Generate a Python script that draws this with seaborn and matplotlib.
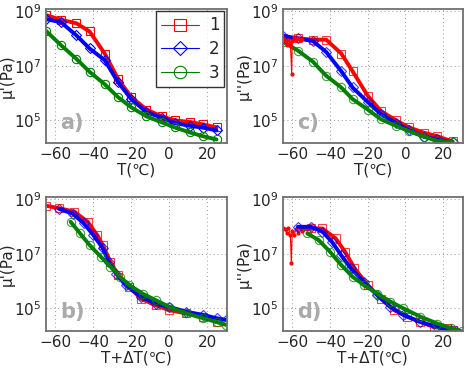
import matplotlib
matplotlib.use("Agg")
import matplotlib.pyplot as plt
import seaborn as sns

# ---- data (T in degC, moduli in Pa) ----
# panel a: mu' vs T
a_T = [-65, -57, -49, -42, -34, -27, -20, -12, -4, 3, 11, 18, 25]
a_mu1 = [7.2e8, 4.8e8, 3.6e8, 1.8e8, 2.8e7, 3.3e6, 7.1e5, 2.5e5, 1.4e5, 1.0e5, 8.7e4, 7.1e4, 5.5e4]
a_mu2 = [5.1e8, 3.9e8, 1.3e8, 4.3e7, 1.6e7, 2.5e6, 6.0e5, 2.0e5, 1.26e5, 7.9e4, 6.3e4, 5.4e4, 4.3e4]
a_mu3 = [1.9e8, 5.6e7, 1.8e7, 6.0e6, 2.1e6, 7.1e5, 3.0e5, 1.4e5, 8.5e4, 5.5e4, 3.6e4, 2.6e4, 2.0e4]

# panel c: mu'' vs T
c_T = [-65, -57, -49, -42, -34, -28, -20, -13, -5, 2, 10, 17, 25]
c_mu1 = [1.0e8, 1.0e8, 9.0e7, 9.0e7, 2.8e7, 6.3e6, 8.0e5, 2.2e5, 1.0e5, 5.5e4, 3.5e4, 2.6e4, 1.7e4]
c_mu2 = [1.25e8, 1.0e8, 8.0e7, 3.2e7, 6.3e6, 1.6e6, 4.7e5, 1.7e5, 8.0e4, 4.3e4, 2.5e4, 2.0e4, 1.55e4]
c_mu3 = [7.6e7, 3.6e7, 1.4e7, 4.3e6, 1.6e6, 6.0e5, 2.5e5, 1.1e5, 6.3e4, 4.0e4, 2.5e4, 1.75e4, 1.6e4]
c_noise_T = [-65, -64, -63, -62, -61, -60.3, -60, -59, -58, -57, -56, -55]
c_noise_mu = [1.0e8, 8.0e7, 6.0e7, 9.0e7, 7.0e7, 5.0e6, 8.0e7, 1.1e8, 9.0e7, 1.0e8, 9.0e7, 9.5e7]

# panel b: mu' vs T+dT
b_T1 = [-65, -58, -50, -43, -38, -35, -31, -27, -21, -15, -7, 0, 9, 18, 25]
b_mu1 = [5.8e8, 4.7e8, 3.5e8, 1.5e8, 4.9e7, 2.1e7, 5.1e6, 1.7e6, 6.3e5, 2.3e5, 1.3e5, 8.7e4, 6.6e4, 5.0e4, 3.2e4]
b_T2 = [-58, -51, -45, -40, -35, -32, -28, -23, -15, -7, 0, 9, 18, 25, 30]
b_mu2 = [4.4e8, 3.0e8, 1.3e8, 4.9e7, 1.6e7, 5.1e6, 1.9e6, 7.2e5, 2.7e5, 1.5e5, 1.15e5, 7.6e4, 5.8e4, 4.4e4, 3.8e4]
b_T3 = [-52, -47, -42, -36, -31, -26, -21, -14, -7, 0, 9, 18, 25, 30]
b_mu3 = [1.5e8, 5.6e7, 2.1e7, 7.8e6, 3.4e6, 1.45e6, 7.2e5, 3.5e5, 2.0e5, 1.15e5, 6.6e4, 4.4e4, 3.2e4, 2.5e4]

# panel d: mu'' vs T+dT
d_T1 = [-50, -44, -37, -32, -27, -20, -13, -6, 1, 8, 15, 22, 25]
d_mu1 = [8.5e7, 8.5e7, 3.7e7, 1.2e7, 3.0e6, 7.2e5, 2.3e5, 8.7e4, 5.0e4, 3.2e4, 2.1e4, 1.9e4, 1.7e4]
d_noise_T = [-65, -64, -63, -62, -61, -60.5, -60, -59, -58, -57, -56, -55, -54, -53, -52, -51, -50]
d_noise_mu = [9e7, 8e7, 6e7, 9e7, 5e7, 4.6e6, 7e7, 5e7, 8e7, 6e7, 9e7, 7e7, 8e7, 9e7, 8e7, 9e7, 8.5e7]
d_T2 = [-57, -50, -44, -39, -34, -29, -22, -15, -8, -1, 8, 17, 24, 27]
d_mu2 = [9.8e7, 9.8e7, 6.5e7, 2.8e7, 8.9e6, 3.0e6, 9.5e5, 3.1e5, 1.15e5, 5.8e4, 3.2e4, 2.1e4, 1.6e4, 1.5e4]
d_T3 = [-52, -46, -40, -34, -28, -22, -15, -8, -1, 8, 17, 24, 30]
d_mu3 = [5.6e7, 3.2e7, 1.2e7, 3.9e6, 1.45e6, 7.2e5, 3.5e5, 1.8e5, 1.0e5, 5.0e4, 2.8e4, 1.9e4, 1.45e4]

labels = ["1", "2", "3"]
colors = ["#ff0000", "#0000ff", "#008000"]
markers = ["s", "D", "o"]

sns.set_style("white")
plt.rcParams["font.family"] = ["DejaVu Sans"]
plt.rcParams["font.size"] = 11

fig = plt.figure(figsize=(4.69, 3.74), dpi=100)
ax_a = fig.add_axes([0.098, 0.618, 0.386, 0.358])
ax_c = fig.add_axes([0.603, 0.618, 0.384, 0.358])
ax_b = fig.add_axes([0.098, 0.115, 0.386, 0.358])
ax_d = fig.add_axes([0.603, 0.115, 0.384, 0.358])


def draw_series(ax, T, mu, i):
    # thick fitted curve, then thin line with open markers on top
    sns.lineplot(x=T, y=mu, ax=ax, color=colors[i], lw=2.8, sort=False)
    sns.lineplot(x=T, y=mu, ax=ax, color=colors[i], lw=0.8, sort=False,
                 marker=markers[i], markersize=6 if i != 1 else 5,
                 markerfacecolor="none", markeredgecolor=colors[i],
                 markeredgewidth=0.8, alpha=0.75, label=labels[i])


def style(ax, ylab, xlab, tag):
    ax.set_yscale("log")
    ax.set_xlim(-65, 30.5)
    ax.set_ylim(1.5e4, 1.2e9)
    ax.set_xticks([-60, -40, -20, 0, 20])
    ax.set_xticklabels(["\u221260", "\u221240", "\u221220", "0", "20"])
    ax.set_yticks([1e5, 1e7, 1e9])
    ax.set_yticklabels([r"$10^5$", r"$10^7$", r"$10^9$"])
    ax.minorticks_off()
    ax.grid(True, ls=(0, (1, 3)), color="#999999", lw=0.7)
    for s in ax.spines.values():
        s.set_color("#707070")
        s.set_linewidth(1.3)
    ax.tick_params(direction="in", length=3, color="#707070", pad=3, labelsize=11)
    ax.set_xlabel(xlab, fontsize=11, labelpad=0)
    ax.set_ylabel(ylab, fontsize=11)
    ax.yaxis.set_label_coords(-0.175, 0.5)
    ax.text(0.08, 0.07, tag, transform=ax.transAxes, fontsize=15,
            fontweight="bold", color="#aaaaaa", ha="left", va="bottom")


for i, mu in enumerate([a_mu1, a_mu2, a_mu3]):
    draw_series(ax_a, a_T, mu, i)
for i, mu in enumerate([c_mu1, c_mu2, c_mu3]):
    draw_series(ax_c, c_T, mu, i)
ax_c.plot(c_noise_T, c_noise_mu, color=colors[0], lw=0.8, marker=".", markersize=4)
for i, (T, mu) in enumerate([(b_T1, b_mu1), (b_T2, b_mu2), (b_T3, b_mu3)]):
    draw_series(ax_b, T, mu, i)
ax_d.plot(d_noise_T, d_noise_mu, color=colors[0], lw=0.8, marker=".", markersize=4)
for i, (T, mu) in enumerate([(d_T1, d_mu1), (d_T2, d_mu2), (d_T3, d_mu3)]):
    draw_series(ax_d, T, mu, i)

style(ax_a, "\u03bc'(Pa)", "T(\u2103)", "a)")
style(ax_c, "\u03bc''(Pa)", "T(\u2103)", "c)")
style(ax_b, "\u03bc'(Pa)", "T+\u0394T(\u2103)", "b)")
style(ax_d, "\u03bc''(Pa)", "T+\u0394T(\u2103)", "d)")

for ax in [ax_b, ax_c, ax_d]:
    ax.get_legend().remove()
handles, labs = ax_a.get_legend_handles_labels()
for h in handles:
    h.set_alpha(1)
leg = ax_a.legend(handles, labs, loc="upper right", fontsize=12, markerscale=1.5,
                  handlelength=2.3, handletextpad=0.6, frameon=True, fancybox=False,
                  borderaxespad=0.15, labelspacing=0.35, borderpad=0.3)
leg.get_frame().set_edgecolor("black")
leg.get_frame().set_linewidth(1.0)

fig.savefig("out.png", dpi=100)
